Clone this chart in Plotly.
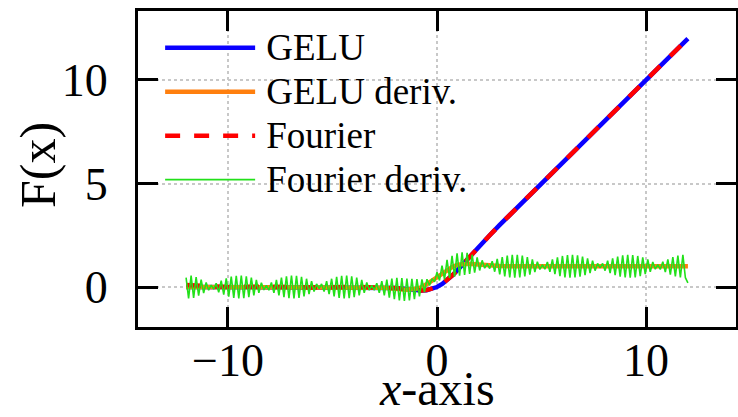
import numpy as np
import plotly.graph_objects as go

# GELU and its derivative, sampled on a coarse grid
gelu_x = [-12, -10, -8, -6, -4, -3, -2.5, -2, -1.5, -1, -0.75, -0.5, -0.25,
          0, 0.25, 0.5, 0.75, 1, 1.5, 2, 2.5, 3, 4, 6, 8, 10, 12]
gelu_y = [0, 0, 0, 0, 0, -0.004, -0.016, -0.045, -0.10, -0.159, -0.170, -0.154, -0.10,
          0, 0.15, 0.346, 0.58, 0.84, 1.40, 1.95, 2.48, 3.0, 4.0, 6.0, 8.0, 10.0, 12.0]
gelu_d_y = [0, 0, 0, 0, 0, -0.012, -0.038, -0.085, -0.128, -0.083, -0.02, 0.132, 0.31,
            0.5, 0.69, 0.868, 0.98, 1.083, 1.128, 1.085, 1.038, 1.012, 1.0, 1.0, 1.0, 1.0, 1.0]

# Fourier-series approximation of GELU
fourier_y = [0.10, 0.0, 0.02, -0.02, 0.01, -0.01, -0.03, -0.05, -0.10, -0.16, -0.17, -0.15, -0.10,
             0, 0.15, 0.35, 0.58, 0.84, 1.40, 1.95, 2.48, 3.0, 4.0, 6.0, 8.0, 10.0, 12.0]

# Derivative of the Fourier approximation (dense, oscillating)
fd_x = np.round(np.linspace(-12, 12, 201), 2)
fd_y = [
    0.45, -0.55, 0.55, -0.52, 0.48, -0.42, 0.36, -0.29, 0.22, -0.15, 0.09,
    -0.10, 0.18, -0.25, 0.31, -0.37, 0.42, -0.46, 0.50, -0.52, 0.54, -0.55,
    0.55, -0.54, 0.52, -0.49, 0.45, -0.40, 0.34, -0.28, 0.21, -0.14, 0.08,
    -0.15, 0.22, -0.28, 0.34, -0.40, 0.45, -0.49, 0.52, -0.54, 0.55, -0.55,
    0.54, -0.52, 0.49, -0.45, 0.40, -0.34, 0.28, -0.22, 0.15, -0.08,
    0.15, -0.22, 0.28, -0.34, 0.40, -0.45, 0.49, -0.52, 0.54, -0.55, 0.55,
    -0.54, 0.52, -0.49, 0.45, -0.40, 0.34, -0.28, 0.22, -0.15, 0.08,
    -0.15, 0.18, -0.28, 0.28, -0.40, 0.36, -0.51, 0.41, -0.59, 0.44, -0.65,
    0.43, -0.67, 0.41, -0.65, 0.39, -0.58, 0.38, -0.45, 0.37, -0.24, 0.38,
    0.07, 0.40, 0.25, 0.72, 0.32, 1.03, 0.37, 1.31, 0.44, 1.51, 0.50,
    1.63, 0.55, 1.67, 0.59, 1.65, 0.63, 1.56, 0.70, 1.43, 0.80, 1.29, 0.91, 1.13,
    0.89, 1.25, 0.74, 1.36, 0.61, 1.45, 0.51, 1.52, 0.46, 1.55, 0.45,
    1.55, 0.46, 1.52, 0.51, 1.45, 0.60, 1.34, 0.72, 1.22, 0.85, 1.08,
    0.86, 1.21, 0.73, 1.33, 0.62, 1.43, 0.53, 1.50, 0.47, 1.54, 0.45,
    1.55, 0.46, 1.53, 0.50, 1.47, 0.57, 1.38, 0.67, 1.27, 0.79, 1.14, 0.92,
    1.14, 0.79, 1.27, 0.67, 1.38, 0.57, 1.47, 0.50, 1.53, 0.46, 1.55,
    0.45, 1.54, 0.47, 1.50, 0.53, 1.43, 0.62, 1.33, 0.73, 1.21, 0.86, 1.08,
    0.85, 1.22, 0.72, 1.34, 0.60, 1.45, 0.51, 1.52, 0.46, 1.55, 0.45, 0.20,
]

x_ticks = [-10, 0, 10]
y_ticks = [0, 5, 10]

SERIF = "Liberation Serif"


def legend_label(text):
    # a little extra room between key and label, with a larger glyph size
    return '<span style="font-size:37px">\u2006' + text + "</span>"


fig = go.Figure()
fig.add_trace(go.Scatter(x=gelu_x, y=gelu_y, mode="lines", name=legend_label("GELU"),
                         line=dict(color="#0a00ff", width=4.5)))
fig.add_trace(go.Scatter(x=gelu_x, y=gelu_d_y, mode="lines", name=legend_label("GELU deriv."),
                         line=dict(color="#ff7f0e", width=4.5)))
fig.add_trace(go.Scatter(x=gelu_x, y=fourier_y, mode="lines", name=legend_label("Fourier"),
                         line=dict(color="#ff0000", width=4.5, dash="15px,14px")))
fig.add_trace(go.Scatter(x=fd_x, y=fd_y, mode="lines", name=legend_label("Fourier deriv."),
                         line=dict(color="#22e01a", width=1.6)))

axis_common = dict(
    showline=True, linecolor="black", linewidth=3, mirror="allticks",
    ticks="inside", ticklen=20, tickwidth=3, tickcolor="black",
    showgrid=True, gridcolor="#c8c8c8", gridwidth=1.5, griddash="dot",
    zeroline=False, automargin=False,
    tickfont=dict(family=SERIF, size=46, color="black"),
)

fig.update_xaxes(range=[-14.3, 14.3], tickvals=x_ticks, ticklabelstandoff=-9,
                 **axis_common)
fig.update_yaxes(range=[-1.93, 13.33], tickvals=y_ticks, ticklabelstandoff=18,
                 **axis_common)

fig.update_layout(
    width=738, height=417,
    margin=dict(l=138, r=2, t=11, b=90),
    paper_bgcolor="white", plot_bgcolor="white",
    showlegend=True,
    legend=dict(x=0.037, y=0.969, xanchor="left", yanchor="top",
                bgcolor="rgba(0,0,0,0)", borderwidth=0,
                font=dict(family=SERIF, size=31.5, color="black"),
                itemwidth=90, tracegroupgap=0),
    # axis labels, placed in the margins
    annotations=[
        dict(text="F(x)", textangle=-90, showarrow=False,
             xref="paper", yref="paper", x=-0.167, y=0.513,
             xanchor="center", yanchor="middle",
             font=dict(family=SERIF, size=50, color="black")),
        dict(text="<i>x</i>-axis", showarrow=False,
             xref="paper", yref="paper", x=0.5, y=-0.284,
             xanchor="center", yanchor="bottom",
             font=dict(family=SERIF, size=48, color="black")),
    ],
)

fig.write_html("out.html")
